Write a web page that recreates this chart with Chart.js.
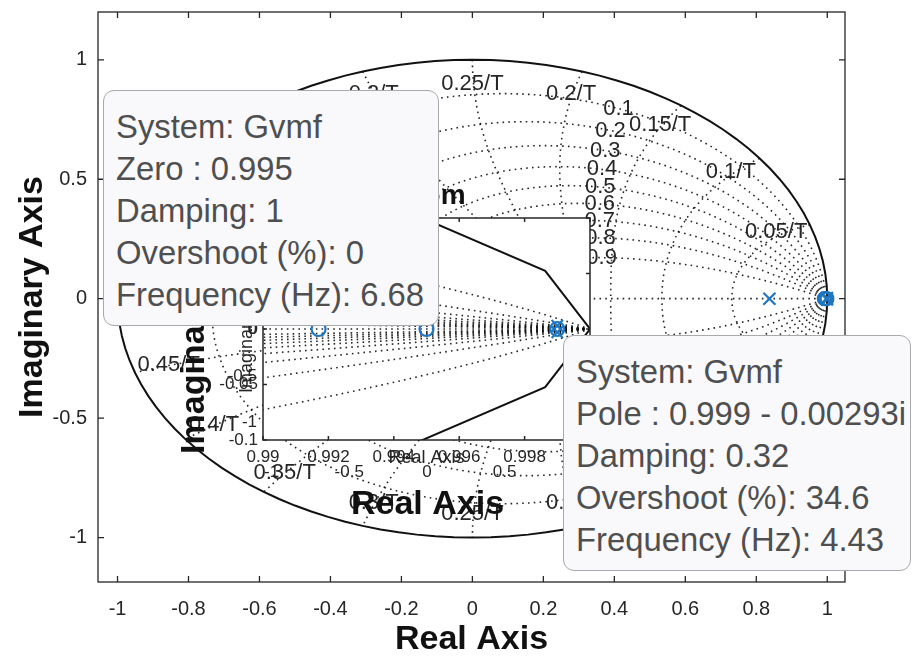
<!DOCTYPE html>
<html>
<head>
<meta charset="utf-8">
<title>Pole-Zero Map</title>
<script src="https://cdn.jsdelivr.net/npm/chart.js@4.4.1/dist/chart.umd.min.js"></script>
<style>
  html, body { margin: 0; padding: 0; background: #fff; }
  #wrap { position: relative; width: 912px; height: 662px; overflow: hidden;
          font-family: "Liberation Sans", Arial, Helvetica, sans-serif; }
  #main { position: absolute; left: 0; top: 0; }
  #zoom { position: absolute; left: 150px; top: 180px; }
  .tip { position: absolute; box-sizing: border-box; background: #f9f9fc;
         border: 1.5px solid #a9a9ad; border-radius: 11px; color: #4f4f4f;
         font-size: 32.8px; line-height: 42px; padding: 15px 12px 10px 12px;
         white-space: nowrap; overflow: hidden; }
</style>
</head>
<body>
<div id="wrap">
  <canvas id="main" width="912" height="662"></canvas>
  <canvas id="zoom" width="470" height="350"></canvas>
  <div class="tip" id="tipZero" style="left:103px; top:90px; width:336px; height:236px;"></div>
  <div class="tip" id="tipPole" style="left:563px; top:335px; width:348px; height:236px;"></div>
</div>
<script>
// ---- axes limits and ticks -------------------------------------------
const xLim = [-1.055, 1.05];
const yLim = [-1.186, 1.2];
const xTicks = [-1, -0.8, -0.6, -0.4, -0.2, 0, 0.2, 0.4, 0.6, 0.8, 1];
const xTickLabels = ['-1', '-0.8', '-0.6', '-0.4', '-0.2', '0', '0.2', '0.4', '0.6', '0.8', '1'];
const yTicks = [-1, -0.5, 0, 0.5, 1];
const yTickLabels = ['-1', '-0.5', '0', '0.5', '1'];

// zoomed view around z = 1
const zoomXLim = [0.99, 1];
const zoomYLim = [-0.1, 0.1];
const zoomXTicks = [0.99, 0.992, 0.994, 0.996, 0.998, 1];
const zoomXTickLabels = ['0.99', '0.992', '0.994', '0.996', '0.998', '1'];
const zoomYTicks = [-0.1, -0.05, 0, 0.05, 0.1];
const zoomYTickLabels = ['-0.1', '-0.05', '0', '0.05', '0.1'];
const copyTicks = [-1, -0.5, 0, 0.5, 1];
const copyTickLabels = ['-1', '-0.5', '0', '0.5', '1'];

// ---- system Gvmf: poles and zeros -------------------------------------
const poleRe = [0.837, 0.999, 0.999];
const poleIm = [0, 0.00293, -0.00293];
const zeroRe = [0.9917, 0.995, 0.999];
const zeroIm = [0, 0, 0];

// ---- z-plane grid levels ----------------------------------------------
const zetaLevels = [0.1, 0.2, 0.3, 0.4, 0.5, 0.6, 0.7, 0.8, 0.9];
const zetaLabels = ['0.1', '0.2', '0.3', '0.4', '0.5', '0.6', '0.7', '0.8', '0.9'];
const freqLevels = [0.05, 0.1, 0.15, 0.2, 0.25, 0.3, 0.35, 0.4, 0.45, 0.5];
const freqLabels = ['0.05/T', '0.1/T', '0.15/T', '0.2/T', '0.25/T', '0.3/T', '0.35/T', '0.4/T', '0.45/T', '0.5/T'];

// ---- data tips ----------------------------------------------------------
const tipZeroLines = ['System: Gvmf', 'Zero : 0.995', 'Damping: 1', 'Overshoot (%): 0', 'Frequency (Hz): 6.68'];
const tipPoleLines = ['System: Gvmf', 'Pole : 0.999 - 0.00293i', 'Damping: 0.32', 'Overshoot (%): 34.6', 'Frequency (Hz): 4.43'];

const FONT = '"Liberation Sans", Arial, Helvetica, sans-serif';
const INK = '#262626';
const BLUE = '#1f76c2';

document.getElementById('tipZero').innerHTML = tipZeroLines.join('<br>');
document.getElementById('tipPole').innerHTML = tipPoleLines.join('<br>');

// ---- grid geometry ------------------------------------------------------
// constant-damping spiral z = exp(s), s = wn(-zeta + j*sqrt(1-zeta^2))
function dampingBranch(zeta, sign) {
  const wd = Math.sqrt(1 - zeta * zeta);
  const wmax = Math.PI / wd;
  const N = 160;
  const pts = [];
  for (let i = 0; i <= N; i++) {
    const w = wmax * Math.pow(i / N, 2);
    const r = Math.exp(-zeta * w);
    pts.push({ x: r * Math.cos(w * wd), y: sign * r * Math.sin(w * wd) });
  }
  return pts;
}
// constant natural frequency curve, upper half then lower half
function frequencyCurve(f) {
  const w = 2 * Math.PI * f;
  const M = 60;
  const up = [];
  for (let j = 0; j <= M; j++) {
    const zeta = j / M;
    const r = Math.exp(-zeta * w);
    const a = w * Math.sqrt(1 - zeta * zeta);
    up.push({ x: r * Math.cos(a), y: r * Math.sin(a) });
  }
  const down = up.slice(0, -1).reverse().map(p => ({ x: p.x, y: -p.y }));
  return up.concat(down);
}
function unitCircle() {
  const pts = [];
  for (let k = 0; k <= 120; k++) {
    const a = k * 3 * Math.PI / 180;
    pts.push({ x: Math.cos(a), y: Math.sin(a) });
  }
  return pts;
}

const dotted = {
  showLine: true, pointRadius: 0, fill: false, tension: 0,
  borderColor: 'rgba(15,15,15,0.9)', borderWidth: 1.6, borderDash: [1.6, 4.2]
};

function buildDatasets(circleR, crossR) {
  const sets = [];
  sets.push({
    label: 'poles', data: poleRe.map((v, i) => ({ x: v, y: poleIm[i] })),
    showLine: false, pointStyle: 'crossRot', pointRadius: crossR,
    borderColor: BLUE, backgroundColor: BLUE, pointBorderWidth: 2.2
  });
  sets.push({
    label: 'zeros', data: zeroRe.map((v, i) => ({ x: v, y: zeroIm[i] })),
    showLine: false, pointStyle: 'circle', pointRadius: circleR,
    borderColor: BLUE, backgroundColor: 'rgba(0,0,0,0)', pointBorderWidth: 2.2
  });
  sets.push({
    label: 'unit circle', data: unitCircle(), showLine: true, pointRadius: 0,
    borderColor: '#111', borderWidth: 2, fill: false, tension: 0
  });
  zetaLevels.forEach(z => {
    sets.push(Object.assign({ label: 'zeta ' + z, data: dampingBranch(z, 1) }, dotted));
    sets.push(Object.assign({ label: 'zeta ' + z, data: dampingBranch(z, -1) }, dotted));
  });
  sets.push(Object.assign({ label: 'zeta 1', data: [{ x: 1, y: 0 }, { x: 0, y: 0 }] }, dotted));
  freqLevels.forEach(f => {
    sets.push(Object.assign({ label: 'wn ' + f, data: frequencyCurve(f) }, dotted));
  });
  return sets;
}

function fixedTicks(values) {
  return s => { s.ticks = values.map(v => ({ value: v })); };
}
// keep the plot box exactly where the layout padding puts it
function fitX(h) {
  return s => { s.height = h; s.paddingLeft = 0; s.paddingRight = 0; };
}
function fitY(w) {
  return s => { s.width = w; s.paddingTop = 0; s.paddingBottom = 0; };
}

function drawFrame(ctx, a, xs, ys, xv, yv, len, lw) {
  ctx.save();
  ctx.strokeStyle = INK;
  ctx.lineWidth = lw;
  ctx.strokeRect(a.left, a.top, a.right - a.left, a.bottom - a.top);
  ctx.beginPath();
  xv.forEach(v => {
    const p = xs.getPixelForValue(v);
    ctx.moveTo(p, a.bottom); ctx.lineTo(p, a.bottom - len);
    ctx.moveTo(p, a.top); ctx.lineTo(p, a.top + len);
  });
  yv.forEach(v => {
    const p = ys.getPixelForValue(v);
    ctx.moveTo(a.left, p); ctx.lineTo(a.left + len, p);
    ctx.moveTo(a.right, p); ctx.lineTo(a.right - len, p);
  });
  ctx.stroke();
  ctx.restore();
}

// ---- main pole-zero axes ------------------------------------------------
const mainDecor = {
  id: 'mainDecor',
  afterDatasetsDraw(chart) {
    const { ctx, chartArea: a, scales: { x, y } } = chart;
    ctx.save();
    ctx.font = '22px ' + FONT;
    ctx.fillStyle = INK;
    ctx.textAlign = 'center';
    ctx.textBaseline = 'middle';
    // natural frequency labels just inside the unit circle
    freqLevels.forEach((f, i) => {
      const w = 2 * Math.PI * f;
      [1, -1].forEach(s => {
        ctx.fillText(freqLabels[i], x.getPixelForValue(0.9 * Math.cos(w)),
                     y.getPixelForValue(s * 0.9 * Math.sin(w)));
      });
    });
    // damping labels along each spiral (upper half)
    zetaLevels.forEach((z, i) => {
      const w = 1.11 - 0.11 * z;
      const wd = Math.sqrt(1 - z * z);
      const r = Math.exp(-z * w);
      ctx.fillText(zetaLabels[i], x.getPixelForValue(r * Math.cos(w * wd)),
                   y.getPixelForValue(r * Math.sin(w * wd)));
    });
    ctx.restore();
    drawFrame(ctx, a, x, y, xTicks, yTicks, 6, 1.3);
  },
  afterDraw(chart) {
    const { ctx, chartArea: a } = chart;
    ctx.save();
    ctx.fillStyle = '#111';
    ctx.font = 'bold 34px ' + FONT;
    ctx.textAlign = 'center';
    ctx.textBaseline = 'middle';
    ctx.fillText('Real Axis', (a.left + a.right) / 2, 640);
    ctx.translate(33, (a.top + a.bottom) / 2);
    ctx.rotate(-Math.PI / 2);
    ctx.fillText('Imaginary Axis', 0, 0);
    ctx.restore();
  }
};

new Chart(document.getElementById('main'), {
  type: 'scatter',
  data: { datasets: buildDatasets(6.5, 8.5) },
  options: {
    responsive: false, animation: false, events: [],
    layout: { padding: { top: 12, right: 67, left: 0, bottom: 0 } },
    plugins: { legend: { display: false }, tooltip: { enabled: false } },
    scales: {
      x: {
        type: 'linear', min: xLim[0], max: xLim[1],
        afterBuildTicks: fixedTicks(xTicks),
        afterFit: fitX(80),
        grid: { display: false, drawTicks: false }, border: { display: false },
        ticks: { padding: 15, color: INK, autoSkip: false, maxRotation: 0,
                 font: { family: FONT, size: 20 }, callback: (v, i) => xTickLabels[i] }
      },
      y: {
        type: 'linear', min: yLim[0], max: yLim[1],
        afterBuildTicks: fixedTicks(yTicks),
        afterFit: fitY(98),
        grid: { display: false, drawTicks: false }, border: { display: false },
        ticks: { padding: 11, color: INK, autoSkip: false,
                 font: { family: FONT, size: 20 }, callback: (v, i) => yTickLabels[i] }
      }
    }
  },
  plugins: [mainDecor]
});

// ---- zoomed axes near z = 1 --------------------------------------------
const zoomDecor = {
  id: 'zoomDecor',
  beforeDraw(chart) {
    const { ctx, chartArea: a } = chart;
    ctx.save();
    ctx.fillStyle = '#fff';
    ctx.fillRect(a.left, a.top, a.right - a.left, a.bottom - a.top);
    ctx.restore();
  },
  afterDraw(chart) {
    const { ctx, chartArea: a, scales: { x, y, xc, yc } } = chart;
    drawFrame(ctx, a, x, y, zoomXTicks, zoomYTicks, 4, 1.5);
    ctx.save();
    ctx.fillStyle = INK;
    ctx.textBaseline = 'middle';
    // ticks of the full-range copy of the axes
    ctx.font = '17px ' + FONT;
    ctx.textAlign = 'center';
    copyTicks.forEach((v, i) => ctx.fillText(copyTickLabels[i], xc.getPixelForValue(v), a.bottom + 32));
    ctx.textAlign = 'right';
    copyTicks.forEach((v, i) => ctx.fillText(copyTickLabels[i], a.left - 6, yc.getPixelForValue(v)));
    // small axis labels
    ctx.textAlign = 'center';
    ctx.font = '18px ' + FONT;
    const cx = (a.left + a.right) / 2, cy = (a.top + a.bottom) / 2;
    ctx.fillText('Real Axis', cx, a.bottom + 18);
    ctx.save();
    ctx.translate(a.left - 16, cy + 5);
    ctx.rotate(-Math.PI / 2);
    ctx.fillText('Imaginary Axis', 0, 0);
    ctx.restore();
    // bold title and axis labels
    ctx.fillStyle = '#111';
    ctx.font = 'bold 28px ' + FONT;
    ctx.fillText('Zoom', cx + 1, a.top - 22);
    ctx.font = 'bold 34px ' + FONT;
    ctx.fillText('Real Axis', cx + 1, a.bottom + 65);
    ctx.translate(a.left - 68, cy + 4);
    ctx.rotate(-Math.PI / 2);
    ctx.fillText('Imaginary Axis', 0, 0);
    ctx.restore();
  }
};

new Chart(document.getElementById('zoom'), {
  type: 'scatter',
  data: { datasets: buildDatasets(7, 8) },
  options: {
    responsive: false, animation: false, events: [],
    layout: { padding: { top: 38, right: 30, left: 0, bottom: 0 } },
    plugins: { legend: { display: false }, tooltip: { enabled: false } },
    scales: {
      x: {
        type: 'linear', min: zoomXLim[0], max: zoomXLim[1],
        afterBuildTicks: fixedTicks(zoomXTicks),
        afterFit: fitX(90),
        grid: { display: false, drawTicks: false }, border: { display: false },
        ticks: { padding: 7, color: INK, autoSkip: false, maxRotation: 0,
                 font: { family: FONT, size: 17 }, callback: (v, i) => zoomXTickLabels[i] }
      },
      y: {
        type: 'linear', min: zoomYLim[0], max: zoomYLim[1],
        afterBuildTicks: fixedTicks(zoomYTicks),
        afterFit: fitY(113),
        grid: { display: false, drawTicks: false }, border: { display: false },
        ticks: { padding: 5, color: INK, autoSkip: false,
                 font: { family: FONT, size: 17 }, callback: (v, i) => zoomYTickLabels[i] }
      },
      xc: { type: 'linear', axis: 'x', position: 'bottom', display: false, min: xLim[0], max: xLim[1] },
      yc: { type: 'linear', axis: 'y', position: 'left', display: false, min: yLim[0], max: yLim[1] }
    }
  },
  plugins: [zoomDecor]
});
</script>
</body>
</html>
